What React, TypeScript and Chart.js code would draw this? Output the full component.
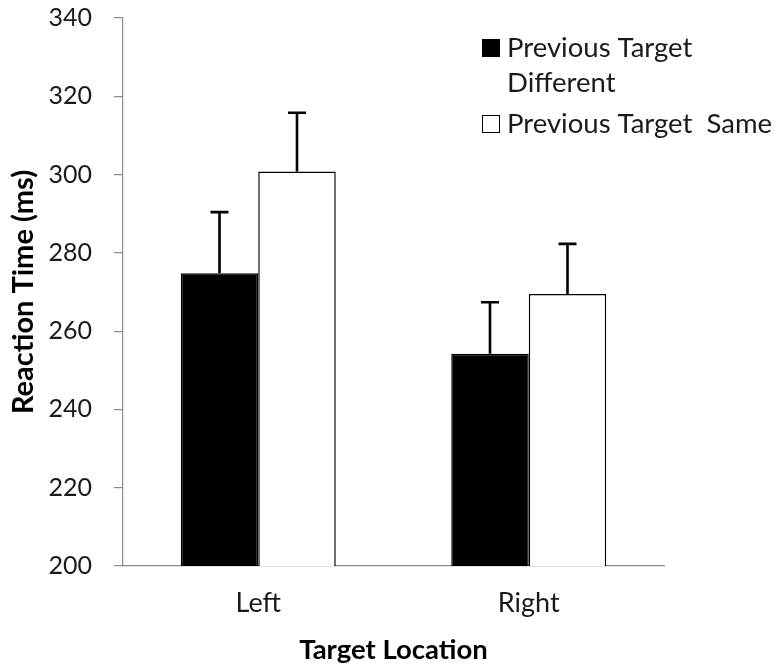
import React, { useEffect, useRef } from "react";
import { Chart, registerables } from "chart.js";

Chart.register(...registerables);

const categories = ["Left", "Right"];
const seriesNames = ["Previous Target Different", "Previous Target Same"];
const legendLines = [["Previous Target", "Different"], ["Previous Target  Same"]];
const differentValues = [274.8, 254.2];
const differentErrors = [15.6, 13.2];
const sameValues = [300.8, 269.5];
const sameErrors = [15.0, 12.8];
const yMin = 200;
const yMax = 340;
const yStep = 20;
const yTitle = "Reaction Time (ms)";
const xTitle = "Target Location";

const FONT = "Lato, 'Open Sans', sans-serif";
const valuesBySeries = [differentValues, sameValues];
const errorsBySeries = [differentErrors, sameErrors];
const fills = ["#000000", "#ffffff"];

const errorBarPlugin = {
  id: "errorBars",
  afterDatasetsDraw(chart: any) {
    const ctx = chart.ctx;
    const yScale = chart.scales.y;
    chart.data.datasets.forEach((_ds: any, i: number) => {
      const meta = chart.getDatasetMeta(i);
      meta.data.forEach((bar: any, j: number) => {
        const v = valuesBySeries[i][j];
        const e = errorsBySeries[i][j];
        const top = yScale.getPixelForValue(v + e);
        const base = yScale.getPixelForValue(v);
        ctx.save();
        ctx.strokeStyle = "#000";
        ctx.lineWidth = 2.6;
        ctx.beginPath();
        ctx.moveTo(bar.x, base);
        ctx.lineTo(bar.x, top);
        ctx.moveTo(bar.x - 9, top);
        ctx.lineTo(bar.x + 9, top);
        ctx.stroke();
        ctx.restore();
      });
    });
  },
};

const legendPlugin = {
  id: "customLegend",
  afterDraw(chart: any) {
    const ctx = chart.ctx;
    const x = 482;
    const lineH = 35;
    const itemGap = 41;
    let baseline = 57;
    ctx.save();
    ctx.font = `27.5px ${FONT}`;
    ctx.textBaseline = "alphabetic";
    ctx.textAlign = "left";
    legendLines.forEach((lines, i) => {
      const size = 18;
      ctx.fillStyle = fills[i];
      ctx.fillRect(x, baseline - size, size, size);
      ctx.strokeStyle = "#000";
      ctx.lineWidth = 1;
      ctx.strokeRect(x + 0.5, baseline - size + 0.5, size - 1, size - 1);
      ctx.fillStyle = "#1a1a1a";
      lines.forEach((line, k) => {
        ctx.fillText(line, x + 25, baseline + k * lineH);
      });
      baseline += (lines.length - 1) * lineH + itemGap;
    });
    ctx.restore();
  },
};

export default function App() {
  const canvasRef = useRef<HTMLCanvasElement | null>(null);

  useEffect(() => {
    document.body.style.margin = "0";
    const canvas = canvasRef.current;
    if (!canvas) return;
    const chart = new Chart(canvas, {
      type: "bar",
      data: {
        labels: categories,
        datasets: [
          {
            label: seriesNames[0],
            data: differentValues,
            backgroundColor: fills[0],
            borderColor: "#000",
            borderWidth: 1.5,
            categoryPercentage: 0.573,
            barPercentage: 1,
          },
          {
            label: seriesNames[1],
            data: sameValues,
            backgroundColor: fills[1],
            borderColor: "#000",
            borderWidth: 1.5,
            categoryPercentage: 0.573,
            barPercentage: 1,
          },
        ],
      },
      options: {
        animation: false,
        responsive: true,
        maintainAspectRatio: false,
        layout: { padding: { left: 0, right: 120, top: 18, bottom: 0 } },
        plugins: {
          legend: { display: false },
          tooltip: { enabled: false },
        },
        scales: {
          x: {
            grid: { display: false, drawTicks: false },
            border: { display: true, color: "#8a8a8a", width: 1.2 },
            ticks: {
              color: "#1a1a1a",
              font: { family: FONT, size: 27 },
              padding: 21,
            },
            title: {
              display: true,
              text: xTitle,
              color: "#000",
              font: { family: FONT, size: 27.5, weight: "bold" },
              padding: { top: 0, bottom: 4 },
            },
            afterFit(scale: any) {
              scale.height = 105;
            },
          },
          y: {
            min: yMin,
            max: yMax,
            grid: {
              display: true,
              drawOnChartArea: false,
              drawTicks: true,
              tickLength: 9,
              color: "#8a8a8a",
              lineWidth: 1.2,
            },
            border: { display: true, color: "#8a8a8a", width: 1.2 },
            ticks: {
              stepSize: yStep,
              color: "#1a1a1a",
              font: { family: FONT, size: 25 },
              padding: 22,
            },
            title: {
              display: true,
              text: yTitle,
              color: "#000",
              font: { family: FONT, size: 29, weight: "bold" },
              padding: { top: 6, bottom: 0 },
            },
            afterFit(scale: any) {
              scale.width = 123;
              scale.paddingTop = 0;
              scale.paddingBottom = 0;
            },
          },
        },
      },
      plugins: [errorBarPlugin, legendPlugin],
    });
    return () => chart.destroy();
  }, []);

  return (
    <div style={{ position: "relative", width: 784, height: 671, background: "#fff" }}>
      <canvas ref={canvasRef} />
    </div>
  );
}
